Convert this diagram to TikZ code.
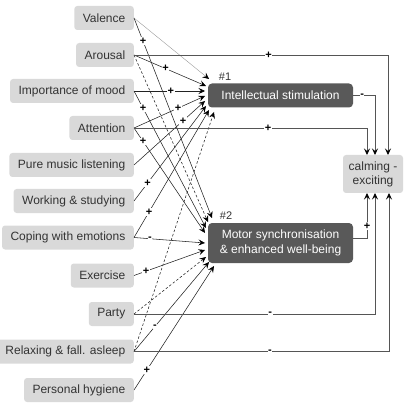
\documentclass[tikz,border=0pt]{standalone}
\usepackage{fontspec}
\setmainfont{Liberation Sans}
\usetikzlibrary{arrows.meta,calc}
\definecolor{lightbox}{HTML}{D9D9D9}
\definecolor{darkbx}{HTML}{595959}
\definecolor{txt}{HTML}{333333}
\definecolor{linecol}{HTML}{222222}
\definecolor{hcol}{HTML}{555555}
\definecolor{faint}{HTML}{9A9A9A}
\tikzset{
  lbox/.style={fill=lightbox, rounded corners=3pt, text=txt, font=\fontsize{12}{14}\selectfont, minimum height=24pt, inner xsep=8.5pt, inner ysep=2pt},
  inbox/.style={lbox, anchor=east},
  dbox/.style={fill=darkbx, rounded corners=4pt, text=white, font=\fontsize{12}{15}\selectfont, minimum width=145pt, align=center, inner sep=2pt},
  link/.style={draw=linecol, line width=0.55pt, -{Stealth[length=6.5pt,width=6pt,inset=2.5pt,color=black]}},
  dlink/.style={link, dash pattern=on 2.5pt off 2pt},
  glink/.style={link, draw=faint, line width=0.4pt},
  hlink/.style={link, draw=hcol, line width=0.7pt},
  lbl/.style={fill=white, inner sep=0.5pt, text=black, font=\bfseries\fontsize{11}{11}\selectfont},
  tag/.style={text=txt, font=\fontsize{11}{11}\selectfont, inner sep=0pt}
}
\begin{document}
\begin{tikzpicture}[x=1pt,y=-1pt]
\useasboundingbox (0,0) rectangle (404,411);
% left nodes
\node[inbox] (val) at (134,18) {Valence};
\node[inbox] (aro) at (134,55) {Arousal};
\node[inbox] (imp) at (134,91) {Importance of mood};
\node[inbox] (att) at (134,128) {Attention};
\node[inbox] (pml) at (134,165) {Pure music listening};
\node[inbox] (wrk) at (134,201) {Working \& studying};
\node[inbox] (cop) at (134,237.5) {Coping with emotions};
\node[inbox] (exe) at (134,275.5) {Exercise};
\node[inbox] (par) at (134,314) {Party};
\node[inbox] (rel) at (134,351.5) {Relaxing \& fall. asleep};
\node[inbox] (hyg) at (134,390) {Personal hygiene};
% mediators
\node[dbox, minimum height=24pt] (f1) at (280.5,95.5) {Intellectual stimulation};
\node[dbox, minimum height=40pt] (f2) at (280.5,243) {Motor synchronisation\\\& enhanced well-being};
\node[tag] (t1) at (225,77) {\#1};
\node[tag] (t2) at (226,216) {\#2};
% outcome
\node[lbox, minimum width=60pt, minimum height=38pt, align=center, inner xsep=2pt] (calm) at (373,174) {calming -\\exciting};
% end points on #1
\coordinate (a1) at (209,79);
\coordinate (a2) at (206,86);
\coordinate (a3) at (205,91);
\coordinate (a4) at (205,96);
\coordinate (a5) at (205,101);
\coordinate (a6) at (206,106);
\coordinate (a7) at (209,110);
\coordinate (a8) at (214,112);
% end points on #2
\coordinate (b1) at (212,218);
\coordinate (b2) at (208,222);
\coordinate (b3) at (206,228);
\coordinate (b4) at (205,233);
\coordinate (b5) at (205,243);
\coordinate (b6) at (205,250);
\coordinate (b7) at (206,257);
\coordinate (b8) at (209,262);
\coordinate (b9) at (214,266);
% end points on calm
\coordinate (ct1) at (367,155);
\coordinate (ct2) at (375,155);
\coordinate (ct3) at (388,155);
\coordinate (cb1) at (367,193);
\coordinate (cb2) at (375,193);
\coordinate (cb3) at (389,193);
% links to #1
\draw[glink] (val.east) -- (a1);
\draw[link] (aro.east) -- node[lbl,pos=0.44]{+} (a2);
\draw[link] (imp.east) -- node[lbl,pos=0.52]{+} (a3);
\draw[link] (att.east) -- node[lbl,pos=0.62]{+} (a4);
\draw[link] (pml.east) -- node[lbl,pos=0.69]{+} (a5);
\draw[link] (wrk.east) -- node[lbl,pos=0.19]{+} (a6);
\draw[link] (cop.east) -- node[lbl,pos=0.2]{+} (a7);
\draw[dlink] (rel.east) -- (a8);
% links to #2
\draw[link] (val.east) -- node[lbl,pos=0.115]{+} (b1);
\draw[dlink] (aro.east) -- (b2);
\draw[link] (imp.east) -- node[lbl,pos=0.125]{+} (b3);
\draw[link] (att.east) -- node[lbl,pos=0.127]{+} (b4);
\draw[link] (cop.east) -- node[lbl,pos=0.225]{-} (b5);
\draw[link] (exe.east) -- node[lbl,pos=0.17]{+} (b6);
\draw[dlink] (par.east) -- (b7);
\draw[link] (rel.east) -- node[lbl,pos=0.28]{-} (b8);
\draw[link] (hyg.east) -- node[lbl,pos=0.16]{+} (b9);
% links to calm
\draw[hlink] (aro.east) -- node[lbl,pos=0.53]{+} (aro.east -| ct3) -- (ct3);
\draw[hlink] (att.east) -- node[lbl,pos=0.575]{+} (att.east -| ct1) -- (ct1);
\draw[hlink] (f1.east) -- node[lbl,pos=0.41]{-} (f1.east -| ct2) -- (ct2);
\draw[hlink] ($(f2.east)+(0,-5)$) -- ($(f2.east -| cb1)+(0,-5)$) -- node[lbl,pos=0.27]{+} (cb1);
\draw[hlink] (par.east) -- node[lbl,pos=0.565]{-} (par.east -| cb2) -- (cb2);
\draw[hlink] (rel.east) -- node[lbl,pos=0.533]{-} (rel.east -| cb3) -- (cb3);
\end{tikzpicture}
\end{document}
